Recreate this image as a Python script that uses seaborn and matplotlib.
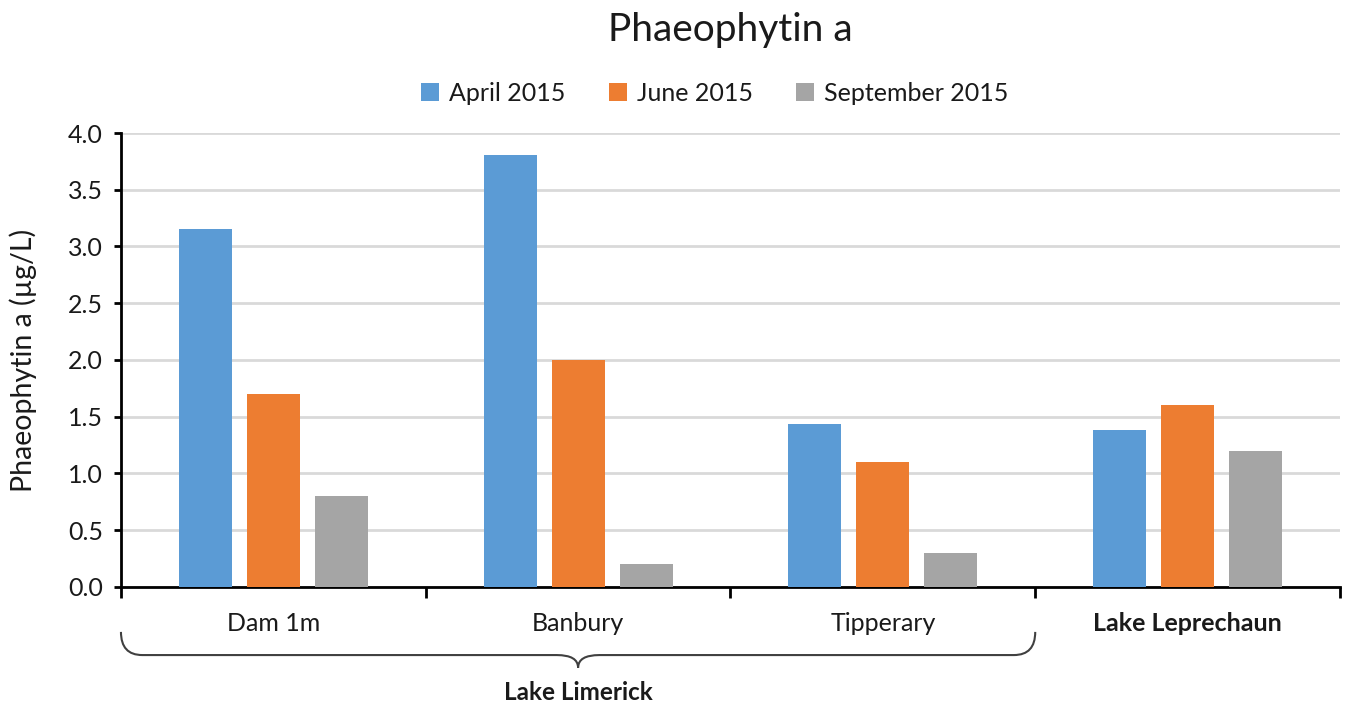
"""Phaeophytin a by site and sampling month, grouped bars."""
import matplotlib
matplotlib.use('Agg')
import matplotlib.pyplot as plt
from matplotlib.path import Path
from matplotlib.patches import PathPatch
from matplotlib.transforms import blended_transform_factory
import pandas as pd
import seaborn as sns

# data
sites = ['Dam 1m', 'Banbury', 'Tipperary', 'Lake Leprechaun']
months = ['April 2015', 'June 2015', 'September 2015']
april = [3.15, 3.81, 1.44, 1.38]
june = [1.70, 2.00, 1.10, 1.60]
september = [0.80, 0.20, 0.30, 1.20]
colors = ['#5B9BD5', '#ED7D31', '#A5A5A5']
y_ticks = [0.0, 0.5, 1.0, 1.5, 2.0, 2.5, 3.0, 3.5, 4.0]

# long-form table for seaborn
df = pd.DataFrame({
    'site': sites * 3,
    'month': [m for m in months for _ in sites],
    'value': april + june + september,
})

sns.set_style('white')
plt.rcParams['font.family'] = ['Lato', 'DejaVu Sans']
plt.rcParams['text.color'] = '#1a1a1a'

fig = plt.figure(figsize=(13.47, 7.06), dpi=100)
ax = fig.add_axes([0.0898, 0.1686, 0.9050, 0.643])

sns.barplot(data=df, x='site', y='value', hue='month', order=sites,
            hue_order=months, palette=colors, width=0.669, gap=0.22,
            saturation=1, linewidth=0, ax=ax, zorder=3)

# axes look (Excel-like)
ax.set_xlim(-0.5, 3.5)
ax.set_ylim(0, 4.0)
ax.set_yticks(y_ticks)
ax.set_yticklabels([f'{t:.1f}' for t in y_ticks])
ax.yaxis.grid(True, color='#d9d9d9', linewidth=2, zorder=0)
ax.set_axisbelow(True)
for side in ['top', 'right']:
    ax.spines[side].set_visible(False)
for side in ['left', 'bottom']:
    ax.spines[side].set_color('black')
    ax.spines[side].set_linewidth(2)
ax.tick_params(axis='y', length=5, width=2, color='black', direction='out',
               labelsize=18, pad=8, left=True, labelcolor='#1a1a1a')
ax.tick_params(axis='x', which='major', length=0, labelsize=18, pad=18,
               labelcolor='#1a1a1a')
ax.set_xticks([-0.5, 0.5, 1.5, 2.5, 3.5], minor=True)
ax.tick_params(axis='x', which='minor', length=8, width=2, color='black',
               direction='out', bottom=True)
ax.get_xticklabels()[3].set_fontweight('bold')
ax.set_xlabel('')
ax.set_ylabel('Phaeophytin a (µg/L)', fontsize=20.5, color='#1a1a1a')
ax.yaxis.set_label_coords(-0.069, 0.5)

# legend above the plot
handles, labels = ax.get_legend_handles_labels()
ax.legend(handles, labels, loc='center', bbox_to_anchor=(0.487, 1.088),
          ncol=3, frameon=False, fontsize=18, handlelength=0.72,
          handleheight=0.72, handletextpad=0.4, columnspacing=1.75)

fig.text(0.542, 0.958, 'Phaeophytin a', ha='center', va='center', fontsize=28)

# curly brace grouping the Lake Limerick sites
trans = blended_transform_factory(ax.transData, ax.transAxes)
top, mid, tip, r = -0.099, -0.150, -0.178, 0.07
verts = [(-0.5, top), (-0.5, mid), (-0.5 + r, mid),
         (1.0 - r, mid), (1.0, mid), (1.0, tip),
         (1.0, mid), (1.0 + r, mid),
         (2.5 - r, mid), (2.5, mid), (2.5, top)]
codes = [Path.MOVETO, Path.CURVE3, Path.CURVE3,
         Path.LINETO, Path.CURVE3, Path.CURVE3,
         Path.CURVE3, Path.CURVE3,
         Path.LINETO, Path.CURVE3, Path.CURVE3]
ax.add_patch(PathPatch(Path(verts, codes), fill=False, edgecolor='#404040',
                       linewidth=1.5, transform=trans, clip_on=False))
ax.text(1.0, -0.233, 'Lake Limerick', transform=trans, ha='center',
        va='center', fontsize=17.5, fontweight='bold')

fig.savefig('out.png', dpi=100)
